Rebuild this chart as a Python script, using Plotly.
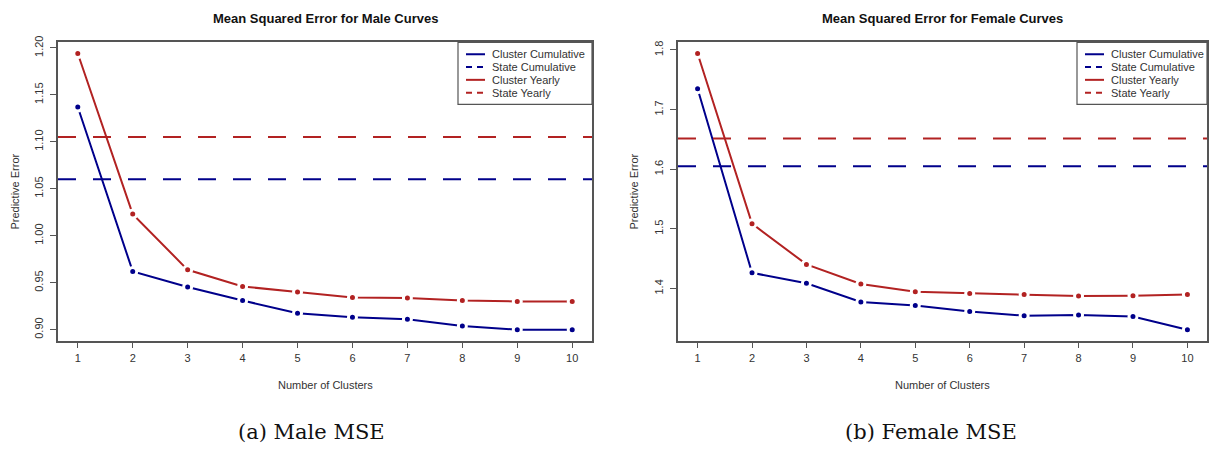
import plotly.graph_objects as go

# ---------------- data ----------------
clusters = [1, 2, 3, 4, 5, 6, 7, 8, 9, 10]

male_cluster_cum = [1.137, 0.962, 0.9455, 0.931, 0.9175, 0.9132, 0.911, 0.904, 0.900, 0.900]
male_cluster_yearly = [1.194, 1.023, 0.9637, 0.946, 0.940, 0.9342, 0.9336, 0.931, 0.930, 0.930]
male_state_cum = 1.060
male_state_yearly = 1.105

female_cluster_cum = [1.735, 1.4263, 1.4087, 1.3775, 1.3715, 1.3616, 1.3545, 1.3556, 1.353, 1.331]
female_cluster_yearly = [1.794, 1.5087, 1.4404, 1.4075, 1.3944, 1.3918, 1.390, 1.3874, 1.388, 1.390]
female_state_cum = 1.605
female_state_yearly = 1.6514

titles = ["Mean Squared Error for Male Curves", "Mean Squared Error for Female Curves"]
captions = ["(a) Male MSE", "(b) Female MSE"]
legend_names = ["Cluster Cumulative", "State Cumulative", "Cluster Yearly", "State Yearly"]

BLUE = "#00008B"
RED = "#B22222"
legend_colors = [BLUE, BLUE, RED, RED]
legend_dash = ["solid", "6px,5px", "solid", "6px,5px"]

W, H = 1212, 449
def px(x):
    return x / W
def py(y):
    return 1 - y / H

fig = go.Figure()

panels = [
    dict(cum=male_cluster_cum, yr=male_cluster_yearly, scum=male_state_cum, syr=male_state_yearly,
         x0=58, x1=592, fmt=".2f", dtick=0.05, tick0=0.90, ylab_x=15, leg_x0=458, cap_x=311),
    dict(cum=female_cluster_cum, yr=female_cluster_yearly, scum=female_state_cum, syr=female_state_yearly,
         x0=678, x1=1207, fmt=".1f", dtick=0.1, tick0=1.3, ylab_x=634, leg_x0=1077, cap_x=931),
]
top, bottom = 36, 339

annotations = []
shapes = []
FONT = "Liberation Sans, Arial, sans-serif"

for i, p in enumerate(panels):
    n = "" if i == 0 else str(i + 1)
    xa, ya = "x" + n, "y" + n
    lo = min(p["cum"] + p["yr"] + [p["scum"], p["syr"]])
    hi = max(p["cum"] + p["yr"] + [p["scum"], p["syr"]])
    pad = 0.04 * (hi - lo)
    xlo, xhi = min(clusters), max(clusters)
    xpad = 0.04 * (xhi - xlo)

    for vals, col in [(p["cum"], BLUE), (p["yr"], RED)]:
        fig.add_trace(go.Scatter(
            x=clusters, y=vals, xaxis=xa, yaxis=ya, mode="lines+markers",
            line=dict(color=col, width=2),
            marker=dict(color=col, size=8, line=dict(color="white", width=3)),
            showlegend=False, hoverinfo="skip"))

    for val, col in [(p["syr"], RED), (p["scum"], BLUE)]:
        shapes.append(dict(type="line", xref=xa + " domain", yref=ya, x0=0, x1=1, y0=val, y1=val,
                           line=dict(color=col, width=2, dash="18px,17px"), layer="above"))

    fig.update_layout(**{
        ("xaxis" + n): dict(domain=[px(p["x0"]), px(p["x1"])], range=[xlo - xpad, xhi + xpad],
                            anchor=ya, tickvals=clusters, showline=True, mirror=True,
                            linecolor="#555", linewidth=1.5, ticks="outside", ticklen=6,
                            tickcolor="#555", showgrid=False, zeroline=False,
                            tickfont=dict(family=FONT, size=11, color="#333")),
        ("yaxis" + n): dict(domain=[py(bottom), py(top)], range=[lo - pad, hi + pad],
                            anchor=xa, tick0=p["tick0"], dtick=p["dtick"], tickformat=p["fmt"],
                            tickangle=-90, showline=True, mirror=True,
                            linecolor="#555", linewidth=1.5, ticks="outside", ticklen=6,
                            tickcolor="#555", showgrid=False, zeroline=False,
                            ticklabelstandoff=3,
                            tickfont=dict(family=FONT, size=11, color="#333")),
    })

    cx = (p["x0"] + p["x1"]) / 2
    annotations.append(dict(text="<b>" + titles[i] + "</b>", x=px(cx), y=py(12), xref="paper", yref="paper",
                            showarrow=False, font=dict(family=FONT, size=13, color="#111"),
                            xanchor="center", yanchor="middle"))
    annotations.append(dict(text="Number of Clusters", x=px(cx), y=py(384), xref="paper", yref="paper",
                            showarrow=False, font=dict(family=FONT, size=11, color="#333"),
                            xanchor="center", yanchor="middle"))
    annotations.append(dict(text="Predictive Error", x=px(p["ylab_x"]), y=py((top + bottom) / 2),
                            xref="paper", yref="paper", textangle=-90,
                            showarrow=False, font=dict(family=FONT, size=11, color="#333"),
                            xanchor="center", yanchor="middle"))
    annotations.append(dict(text=captions[i], x=px(p["cap_x"]), y=py(432), xref="paper",
                            yref="paper", showarrow=False,
                            font=dict(family="DejaVu Serif, Liberation Serif, serif", size=21, color="#111"),
                            xanchor="center", yanchor="middle"))

    # legend box
    lx0 = p["leg_x0"]
    shapes.append(dict(type="rect", xref="paper", yref="paper", x0=px(lx0), x1=px(p["x1"]),
                       y0=py(99), y1=py(top), line=dict(color="#555", width=1.2), fillcolor="white",
                       layer="above"))
    for k, name in enumerate(legend_names):
        yy = 48 + 13 * k
        shapes.append(dict(type="line", xref="paper", yref="paper", x0=px(lx0 + 8), x1=px(lx0 + 27),
                           y0=py(yy), y1=py(yy),
                           line=dict(color=legend_colors[k], width=2, dash=legend_dash[k]), layer="above"))
        annotations.append(dict(text=name, x=px(lx0 + 32), y=py(yy), xref="paper", yref="paper",
                                showarrow=False, xanchor="left", yanchor="middle",
                                font=dict(family=FONT, size=11, color="#333")))

fig.update_layout(width=W, height=H, margin=dict(l=0, r=0, t=0, b=0),
                  paper_bgcolor="white", plot_bgcolor="white",
                  annotations=annotations, shapes=shapes, showlegend=False)

fig.write_html("out.html")
